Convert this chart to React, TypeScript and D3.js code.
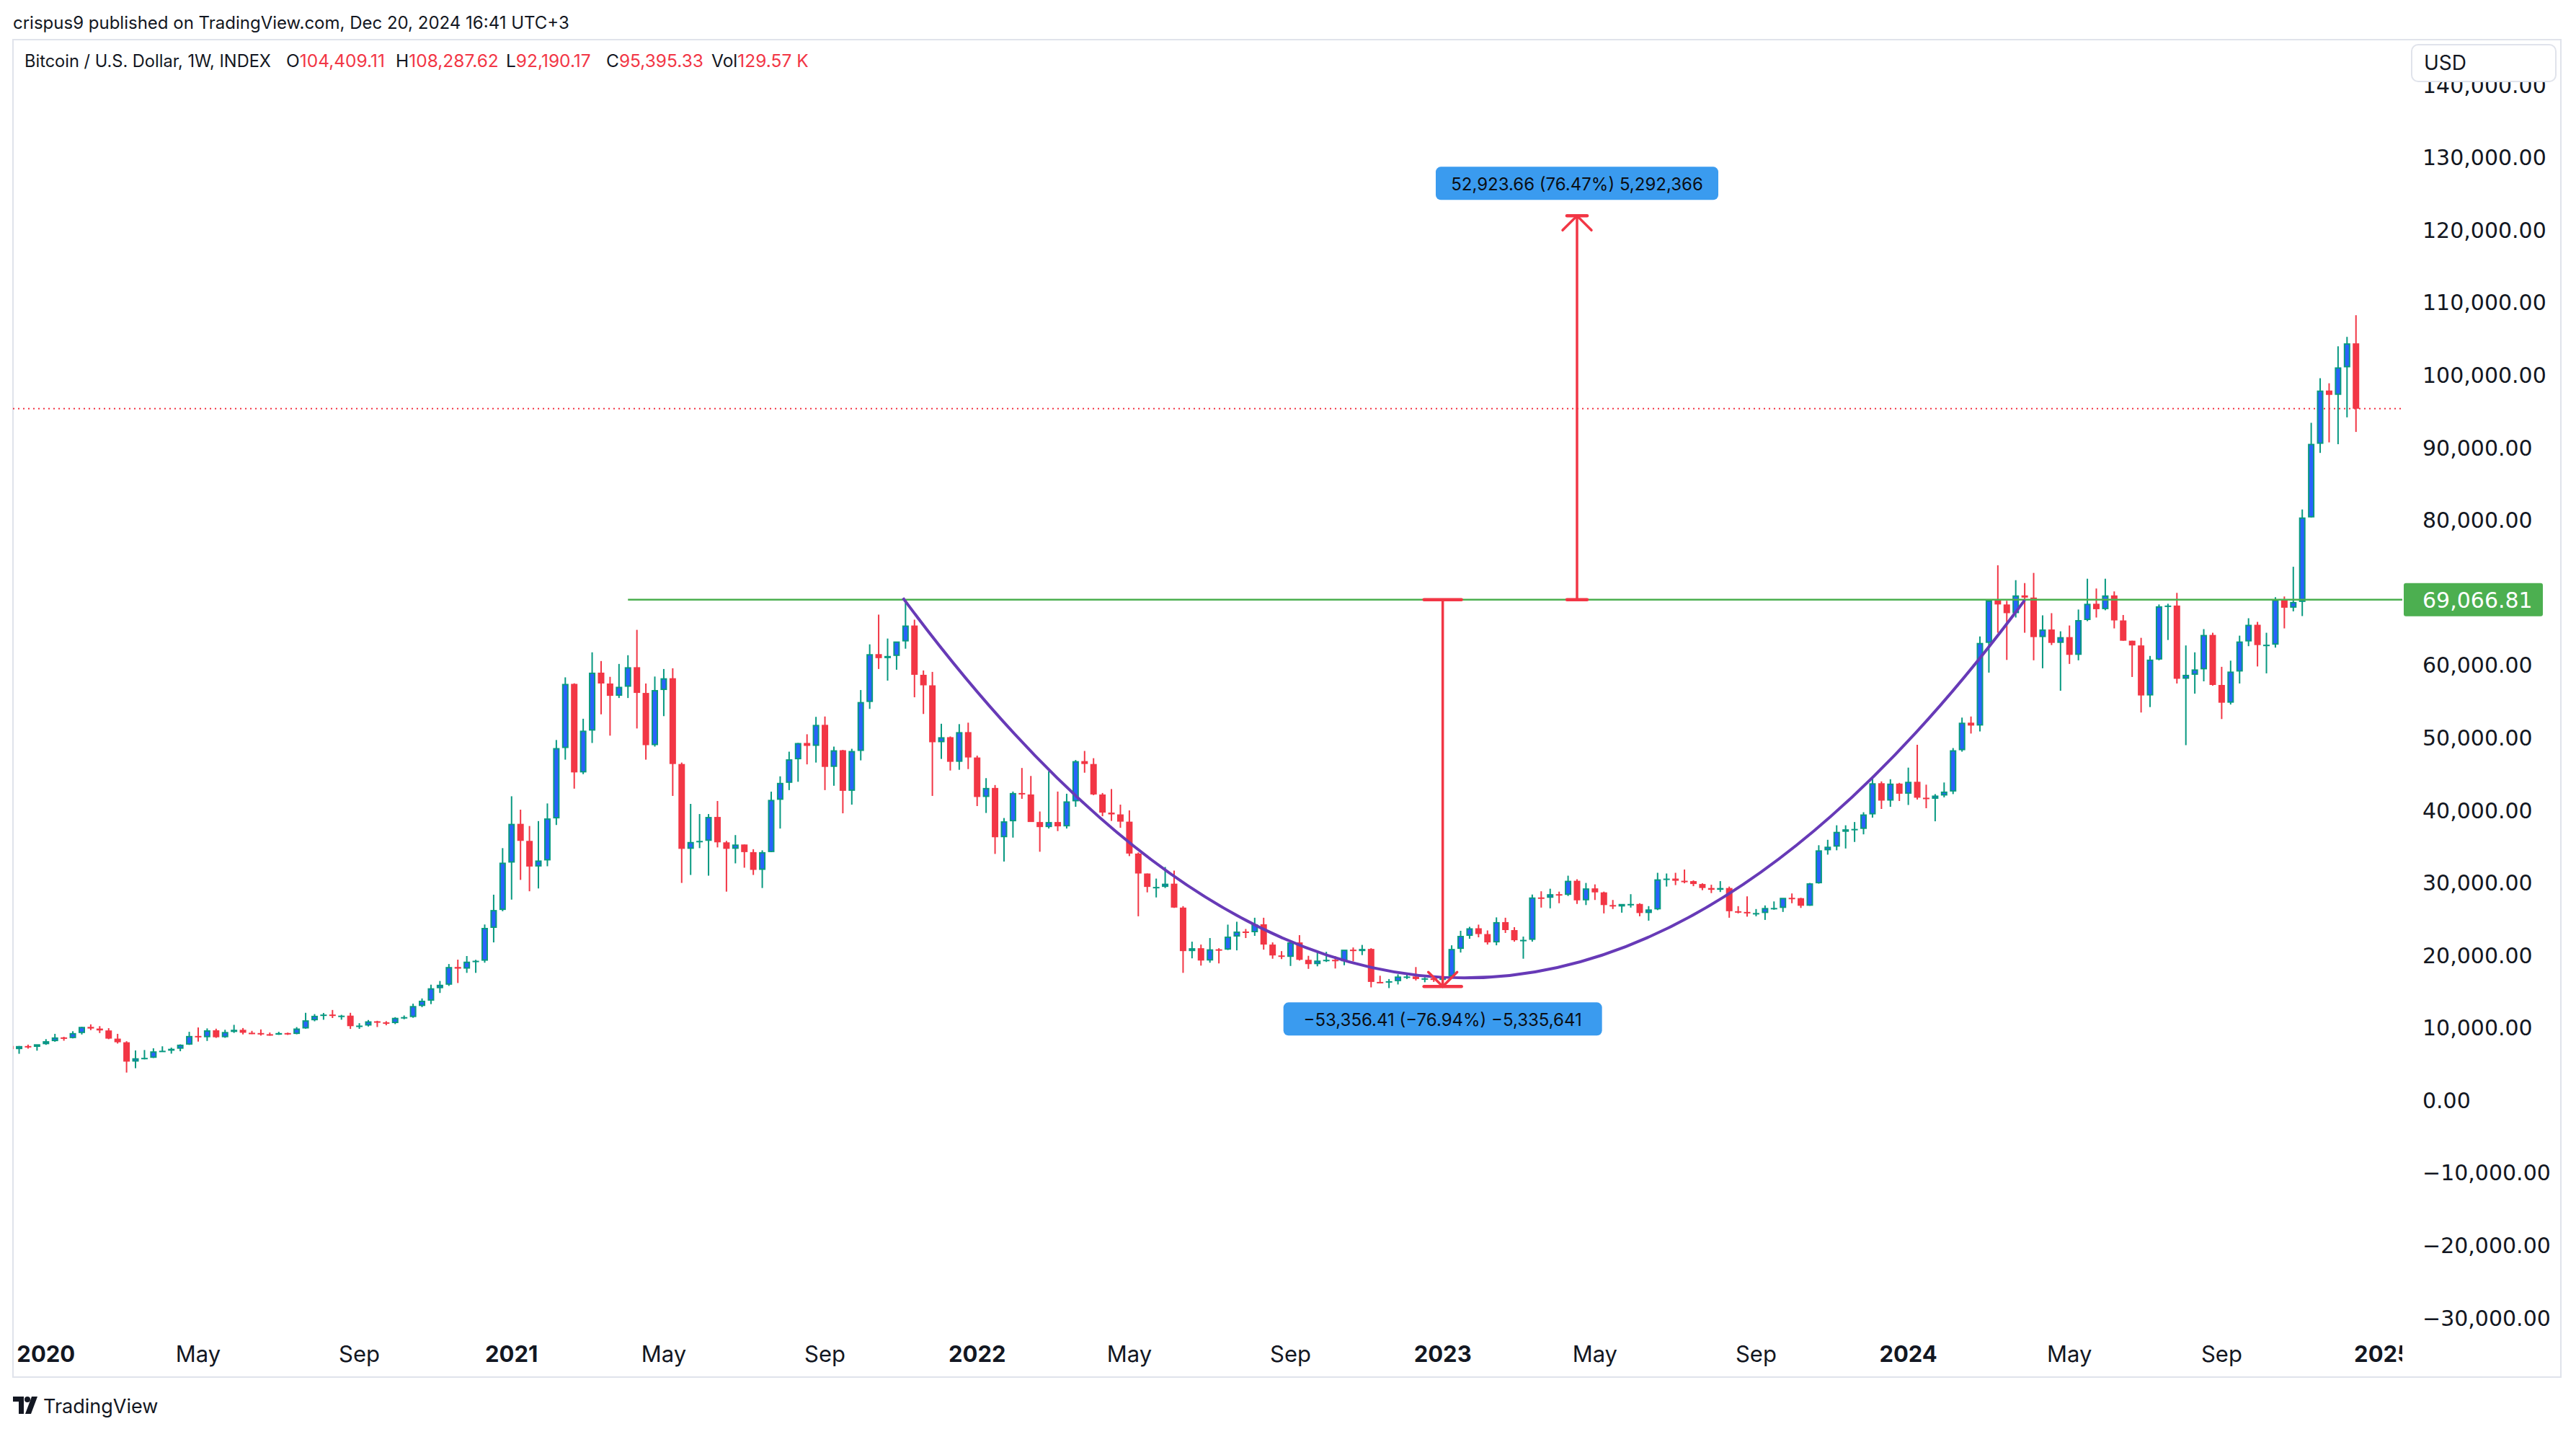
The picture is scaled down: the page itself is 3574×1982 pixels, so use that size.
import React, { useRef, useEffect } from 'react';
import * as d3 from 'd3';

// weekly BTC/USD candles, [open, high, low, close] in thousands of USD
const candles2019 = [
  [7.52, 7.68, 7.05, 7.08], [7.08, 7.52, 6.44, 7.51], [7.51, 7.70, 7.15, 7.39], [7.39, 7.54, 6.87, 7.76],
];
const candles2020 = [
  [7.76, 8.46, 7.67, 8.18], [8.18, 9.19, 8.10, 8.70], [8.70, 8.78, 8.24, 8.60], [8.60, 9.55, 8.56, 9.30],
  [9.30, 10.16, 9.10, 10.15], [10.15, 10.50, 9.70, 9.92], [9.92, 10.25, 9.30, 9.66], [9.66, 9.97, 8.45, 8.53],
  [8.53, 9.19, 7.85, 8.03], [8.03, 8.17, 3.85, 5.36], [5.36, 6.90, 4.45, 5.83], [5.83, 6.96, 5.67, 5.88],
  [5.88, 7.20, 5.86, 6.78], [6.78, 7.47, 6.75, 6.86], [6.86, 7.29, 6.46, 7.13], [7.13, 7.74, 6.79, 7.70],
  [7.70, 9.47, 7.66, 8.90], [8.90, 10.07, 8.12, 8.72], [8.72, 9.94, 8.21, 9.68], [9.68, 9.90, 8.63, 8.72],
  [8.72, 9.75, 8.64, 9.45], [9.45, 10.43, 9.32, 9.75], [9.75, 9.99, 9.11, 9.34], [9.34, 9.60, 9.16, 9.30],
  [9.30, 9.80, 8.95, 9.14], [9.14, 9.37, 8.94, 9.07], [9.07, 9.47, 9.05, 9.30], [9.30, 9.36, 9.04, 9.17],
  [9.17, 10.12, 9.13, 9.93], [9.93, 12.09, 9.90, 11.06], [11.06, 11.91, 10.92, 11.68], [11.68, 12.07, 11.13, 11.85],
  [11.85, 12.48, 11.37, 11.65], [11.65, 11.81, 11.14, 11.70], [11.70, 12.09, 9.87, 10.25], [10.25, 10.66, 9.88, 10.33],
  [10.33, 11.10, 10.20, 10.92], [10.92, 10.99, 10.13, 10.78], [10.78, 10.94, 10.37, 10.67], [10.67, 11.49, 10.53, 11.40],
  [11.40, 11.72, 11.20, 11.50], [11.50, 13.35, 11.40, 13.03], [13.03, 14.07, 12.87, 13.76], [13.76, 15.97, 13.29, 15.48],
  [15.48, 16.48, 14.83, 15.96], [15.96, 18.82, 15.80, 18.41], [18.41, 19.42, 16.20, 18.18], [18.18, 19.92, 17.60, 19.15],
  [19.15, 19.40, 17.60, 19.27], [19.27, 24.27, 19.00, 23.80], [23.80, 28.38, 21.80, 26.27], [26.27, 34.80, 26.10, 32.80],
];
const candles2021 = [
  [32.80, 41.95, 27.70, 38.15], [38.15, 40.10, 30.42, 35.80], [35.80, 37.85, 28.85, 32.26], [32.26, 38.53, 29.24, 33.10],
  [33.10, 40.96, 32.30, 38.90], [38.90, 49.71, 37.99, 48.60], [48.60, 58.35, 47.00, 57.45], [57.45, 57.53, 43.00, 45.24],
  [45.24, 52.64, 45.00, 51.00], [51.00, 61.80, 49.30, 59.00], [59.00, 60.60, 53.25, 57.50], [57.50, 58.42, 50.31, 55.80],
  [55.80, 60.20, 55.50, 57.05], [57.05, 61.40, 55.50, 59.75], [59.75, 64.90, 51.30, 56.20], [56.20, 57.50, 47.00, 49.00],
  [49.00, 58.46, 48.80, 56.60], [56.60, 59.50, 53.00, 58.23], [58.23, 59.60, 42.00, 46.40], [46.40, 46.60, 30.00, 34.70],
  [34.70, 40.90, 31.10, 35.65], [35.65, 39.50, 34.80, 35.80], [35.80, 39.50, 31.00, 39.10], [39.10, 41.30, 34.90, 35.60],
  [35.60, 35.80, 28.80, 34.70], [34.70, 36.60, 32.70, 35.30], [35.30, 35.30, 32.10, 34.25], [34.25, 34.65, 31.10, 31.80],
  [31.80, 34.50, 29.30, 34.25], [34.25, 42.60, 34.25, 41.46], [41.46, 44.70, 37.50, 43.80], [43.80, 48.10, 42.80, 47.05],
  [47.05, 49.30, 43.95, 49.30], [49.30, 50.50, 46.35, 48.90], [48.90, 52.90, 46.60, 51.80], [51.80, 52.95, 42.80, 46.00],
  [46.00, 48.80, 43.40, 48.30], [48.30, 48.35, 39.60, 42.70], [42.70, 48.50, 40.80, 48.20], [48.20, 56.60, 46.90, 54.95],
  [54.95, 62.90, 54.00, 61.55], [61.55, 67.00, 59.50, 61.00], [61.00, 63.70, 57.90, 61.30], [61.30, 63.00, 59.40, 63.30],
  [63.30, 69.00, 62.30, 65.50], [65.50, 66.30, 55.60, 58.70], [58.70, 59.30, 53.30, 57.25], [57.25, 59.10, 42.00, 49.40],
  [49.40, 51.95, 47.10, 50.10], [50.10, 50.20, 45.50, 46.70], [46.70, 51.90, 45.60, 50.80], [50.80, 52.10, 45.70, 47.30],
];
const candles2022 = [
  [47.30, 47.55, 40.60, 41.85], [41.85, 44.45, 39.65, 43.10], [43.10, 43.50, 34.00, 36.30], [36.30, 38.95, 32.95, 38.50],
  [38.50, 42.60, 36.25, 42.40], [42.40, 45.85, 41.60, 42.20], [42.20, 44.75, 39.45, 38.40], [38.40, 39.85, 34.30, 37.70],
  [37.70, 45.40, 37.50, 38.40], [38.40, 42.60, 37.15, 37.80], [37.80, 42.30, 37.50, 41.25], [41.25, 46.95, 40.50, 46.80],
  [46.80, 48.20, 45.20, 46.40], [46.40, 47.20, 42.10, 42.20], [42.20, 42.40, 39.20, 39.70], [39.70, 42.95, 38.55, 39.45],
  [39.45, 40.80, 37.60, 38.45], [38.45, 40.00, 33.70, 34.05], [34.05, 34.20, 25.40, 31.30], [31.30, 31.30, 28.70, 29.45],
  [29.45, 30.60, 28.00, 29.45], [29.45, 32.20, 29.30, 29.90], [29.90, 31.70, 26.55, 26.60], [26.60, 26.80, 17.60, 20.60],
  [20.60, 21.90, 19.60, 21.00], [21.00, 21.50, 18.60, 19.30], [19.30, 22.40, 19.00, 20.85], [20.85, 21.00, 18.90, 20.80],
  [20.80, 24.25, 20.75, 22.60], [22.60, 24.65, 20.70, 23.30], [23.30, 23.65, 22.40, 23.20], [23.20, 25.20, 22.70, 24.30],
  [24.30, 25.20, 20.80, 21.50], [21.50, 21.80, 19.55, 20.00], [20.00, 20.60, 19.50, 19.80], [19.80, 21.80, 18.55, 21.80],
  [21.80, 22.80, 19.30, 19.40], [19.40, 19.95, 18.15, 18.80], [18.80, 20.40, 18.50, 19.30], [19.30, 20.50, 19.10, 19.40],
  [19.40, 19.90, 18.20, 19.20], [19.20, 19.70, 18.65, 20.80], [20.80, 21.10, 19.20, 20.60], [20.60, 21.45, 20.05, 20.90],
  [20.90, 21.00, 15.60, 16.35], [16.35, 17.20, 16.20, 16.30], [16.30, 16.75, 15.50, 16.45], [16.45, 17.40, 16.00, 17.10],
  [17.10, 17.45, 16.75, 17.10], [17.10, 18.40, 16.55, 16.75], [16.75, 17.00, 16.30, 16.85], [16.85, 16.95, 16.35, 16.62],
];
const candles2023 = [
  [16.62, 17.40, 16.50, 17.12], [17.12, 21.40, 17.10, 20.90], [20.90, 23.40, 20.40, 22.70], [22.70, 23.95, 22.30, 23.75],
  [23.75, 24.25, 22.50, 22.95], [22.95, 23.45, 21.50, 21.80], [21.80, 25.25, 21.40, 24.60], [24.60, 25.20, 23.10, 23.50],
  [23.50, 23.90, 21.90, 22.10], [22.10, 22.60, 19.55, 22.15], [22.15, 28.40, 21.90, 28.00], [28.00, 28.85, 26.60, 27.95],
  [27.95, 29.20, 26.50, 28.45], [28.45, 28.80, 27.20, 28.35], [28.35, 31.00, 28.20, 30.30], [30.30, 30.50, 27.10, 27.60],
  [27.60, 30.00, 26.95, 29.25], [29.25, 29.80, 27.65, 28.70], [28.70, 28.80, 25.80, 26.95], [26.95, 27.65, 26.40, 26.75],
  [26.75, 27.00, 25.90, 27.10], [27.10, 28.45, 26.60, 27.10], [27.10, 27.20, 25.40, 25.85], [25.85, 26.80, 24.80, 26.35],
  [26.35, 31.40, 26.25, 30.50], [30.50, 31.30, 29.50, 30.60], [30.60, 31.40, 29.70, 30.30], [30.30, 31.85, 29.95, 30.25],
  [30.25, 30.35, 29.55, 29.85], [29.85, 29.95, 29.00, 29.30], [29.30, 29.75, 28.60, 29.05], [29.05, 30.25, 28.75, 29.30],
  [29.30, 29.50, 25.20, 26.10], [26.10, 26.80, 25.80, 26.00], [26.00, 28.15, 25.35, 25.85], [25.85, 26.40, 25.40, 25.85],
  [25.85, 26.90, 24.90, 26.55], [26.55, 27.45, 26.30, 26.55], [26.55, 27.20, 26.00, 27.95], [27.95, 28.55, 27.20, 27.90],
  [27.90, 27.95, 26.55, 26.85], [26.85, 30.00, 26.85, 29.95], [29.95, 35.20, 29.90, 34.50], [34.50, 35.95, 33.90, 35.00],
  [35.00, 37.95, 34.50, 37.05], [37.05, 37.95, 34.75, 37.40], [37.40, 38.40, 35.65, 37.45], [37.45, 39.75, 36.70, 39.45],
  [39.45, 44.50, 39.00, 43.75], [43.75, 44.00, 40.20, 41.35], [41.35, 44.30, 40.50, 43.70], [43.70, 43.80, 41.30, 42.30],
];
const candles2024 = [
  [42.30, 45.90, 40.75, 43.95], [43.95, 49.05, 41.50, 41.75], [41.75, 43.55, 40.30, 41.60], [41.60, 42.25, 38.50, 42.05],
  [42.05, 43.85, 41.80, 42.60], [42.60, 48.60, 42.25, 48.30], [48.30, 52.80, 48.10, 52.10], [52.10, 52.95, 50.60, 51.70],
  [51.70, 64.00, 50.90, 63.10], [63.10, 69.00, 59.00, 68.95], [68.95, 73.80, 64.50, 68.40], [68.40, 68.90, 60.75, 67.20],
  [67.20, 71.75, 66.60, 69.65], [69.65, 71.35, 64.50, 69.35], [69.35, 72.75, 60.70, 63.90], [63.90, 66.90, 59.60, 64.95],
  [64.95, 67.20, 62.80, 63.10], [63.10, 64.70, 56.50, 63.90], [63.90, 65.50, 60.20, 61.45], [61.45, 67.70, 60.70, 66.25],
  [66.25, 71.95, 66.10, 68.50], [68.50, 70.60, 66.60, 67.75], [67.75, 71.95, 67.60, 69.65], [69.65, 70.20, 65.10, 66.20],
  [66.20, 66.95, 63.40, 63.40], [63.40, 63.40, 58.40, 62.75], [62.75, 63.80, 53.50, 55.85], [55.85, 61.30, 54.25, 60.80],
  [60.80, 68.40, 60.70, 68.15], [68.15, 68.50, 63.50, 68.25], [68.25, 70.00, 57.50, 58.15], [58.15, 62.75, 49.00, 58.70],
  [58.70, 61.80, 56.10, 59.45], [59.45, 65.00, 57.80, 64.20], [64.20, 64.50, 57.20, 57.30], [57.30, 59.80, 52.60, 54.85],
  [54.85, 60.65, 54.60, 59.15], [59.15, 64.10, 57.50, 63.30], [63.30, 66.50, 62.65, 65.60], [65.60, 66.00, 59.85, 62.80],
  [62.80, 64.50, 58.90, 62.85], [62.85, 69.40, 62.45, 69.05], [69.05, 69.50, 65.10, 67.95], [67.95, 73.60, 67.45, 68.75],
  [68.75, 81.50, 66.80, 80.40], [80.40, 93.45, 80.40, 90.55], [90.55, 99.60, 89.30, 97.90], [97.90, 98.90, 90.75, 97.30],
  [97.30, 104.00, 90.50, 101.10], [101.10, 105.30, 94.20, 104.41], [104.409, 108.288, 92.19, 95.395],
];

const firstWeek = new Date(Date.UTC(2019, 11, 9));

// time axis labels
const tickDates = [
  '2020-01-06', '2020-05-04', '2020-09-07', '2021-01-04', '2021-05-03', '2021-09-06',
  '2022-01-03', '2022-05-02', '2022-09-05', '2023-01-02', '2023-05-01', '2023-09-04',
  '2024-01-01', '2024-05-06', '2024-09-02', '2025-01-06',
];
const tickLabels = ['2020', 'May', 'Sep', '2021', 'May', 'Sep', '2022', 'May', 'Sep', '2023', 'May', 'Sep', '2024', 'May', 'Sep', '2025'];
const priceTicks = [-30000, -20000, -10000, 0, 10000, 20000, 30000, 40000, 50000, 60000, 70000, 80000, 90000, 100000, 110000, 120000, 130000, 140000];

// legend values of the last bar
const legendKeys = ['O', 'H', 'L', 'C', 'Vol'];
const legendValues = ['104,409.11', '108,287.62', '92,190.17', '95,395.33', '129.57 K'];

// drawings
const breakoutLevel = 69066.81;
const breakoutStart = '2021-04-05';
const lastClose = 95395.33;
const cupStart = { date: '2021-11-06', value: 69300 };
const cupEnd = { date: '2024-04-01', value: 69000 };
const cupBottom = 16900;
const dropMeasure = { date: '2023-01-02', from: 69066.81, to: 15710.40, label: '\u221253,356.41 (\u221276.94%) \u22125,335,641' };
const riseMeasure = { date: '2023-04-17', from: 69066.81, to: 121990.47, label: '52,923.66 (76.47%) 5,292,366' };

const UP_BODY = '#2962ff';
const UP_EDGE = '#089981';
const DOWN = '#f23645';
const TEXT = '#131722';
const UI_FONT = 'Inter, "Liberation Sans", Arial, sans-serif';

const App = () => {
  const svgRef = useRef<SVGSVGElement>(null);

  useEffect(() => {
    const W = 3574, H = 1982;
    const frame = { left: 18, top: 55, right: 3553, bottom: 1910 };
    const plotRight = 3333, plotBottom = 1851;

    const svg = d3.select(svgRef.current).attr('width', W).attr('height', H);
    svg.selectAll('*').remove();

    const day = (s: string) => new Date(s + 'T00:00:00Z');
    const rows = [...candles2019, ...candles2020, ...candles2021, ...candles2022, ...candles2023, ...candles2024]
      .map((r, i) => ({ date: d3.utcDay.offset(firstWeek, 7 * i), o: r[0] * 1000, h: r[1] * 1000, l: r[2] * 1000, c: r[3] * 1000 }));

    const x = d3.scaleUtc().domain([day('2020-01-06'), day('2025-01-06')]).range([63.8, 3306]);
    const y = d3.scaleLinear().domain([-30000, 130000]).range([1828.1, 218.8]);

    svg.append('rect').attr('width', W).attr('height', H).attr('fill', '#fff');

    const defs = svg.append('defs');
    defs.append('clipPath').attr('id', 'plot-clip').append('rect')
      .attr('x', frame.left).attr('y', frame.top).attr('width', plotRight - frame.left).attr('height', plotBottom - frame.top);
    defs.append('clipPath').attr('id', 'time-clip').append('rect')
      .attr('x', frame.left).attr('y', plotBottom).attr('width', plotRight - frame.left).attr('height', frame.bottom - plotBottom);

    // header
    svg.append('text').attr('x', 18).attr('y', 31).attr('dominant-baseline', 'central')
      .attr('font-family', UI_FONT).attr('font-size', 24).attr('fill', TEXT)
      .text('crispus9 published on TradingView.com, Dec 20, 2024 16:41 UTC+3');

    svg.append('rect').attr('x', frame.left).attr('y', frame.top)
      .attr('width', frame.right - frame.left).attr('height', frame.bottom - frame.top)
      .attr('fill', 'none').attr('stroke', '#e0e3eb').attr('stroke-width', 2);

    const plot = svg.append('g').attr('clip-path', 'url(#plot-clip)');

    // last close dotted line
    plot.append('line')
      .attr('x1', frame.left).attr('x2', plotRight).attr('y1', y(lastClose)).attr('y2', y(lastClose))
      .attr('stroke', DOWN).attr('stroke-width', 2).attr('stroke-dasharray', '2 5');

    // candles
    const bodyW = 9;
    const g = plot.append('g');
    rows.forEach(d => {
      const cx = x(d.date);
      const up = d.c >= d.o;
      g.append('line').attr('x1', cx).attr('x2', cx).attr('y1', y(d.h)).attr('y2', y(d.l))
        .attr('stroke', up ? UP_EDGE : DOWN).attr('stroke-width', 2);
      const top = y(Math.max(d.o, d.c));
      const hgt = Math.max(2, Math.abs(y(d.o) - y(d.c)));
      if (up) {
        g.append('rect').attr('x', cx - bodyW / 2).attr('y', top).attr('width', bodyW).attr('height', hgt).attr('fill', UP_EDGE);
        if (hgt > 4) {
          g.append('rect').attr('x', cx - bodyW / 2 + 2).attr('y', top + 2).attr('width', bodyW - 4).attr('height', hgt - 4).attr('fill', UP_BODY);
        }
      } else {
        g.append('rect').attr('x', cx - bodyW / 2).attr('y', top).attr('width', bodyW).attr('height', hgt).attr('fill', DOWN);
      }
    });

    // breakout level
    plot.append('line')
      .attr('x1', x(day(breakoutStart))).attr('x2', plotRight).attr('y1', y(breakoutLevel)).attr('y2', y(breakoutLevel))
      .attr('stroke', '#4caf50').attr('stroke-width', 2.5);

    // cup curve (quadratic bezier through the bottom)
    const p0 = [x(day(cupStart.date)), y(cupStart.value)];
    const p2 = [x(day(cupEnd.date)), y(cupEnd.value)];
    const ctrlVal = 2 * cupBottom - (cupStart.value + cupEnd.value) / 2;
    const p1 = [(p0[0] + p2[0]) / 2, y(ctrlVal)];
    const cup = d3.path();
    cup.moveTo(p0[0], p0[1]);
    cup.quadraticCurveTo(p1[0], p1[1], p2[0], p2[1]);
    plot.append('path').attr('d', cup.toString()).attr('fill', 'none')
      .attr('stroke', '#673ab7').attr('stroke-width', 4);

    // measure tools
    const measure = (m: typeof dropMeasure, capW: number, boxW: number) => {
      const mx = x(day(m.date));
      const y0 = y(m.from), y1 = y(m.to);
      const dir = y1 > y0 ? 1 : -1;
      const mg = plot.append('g').attr('stroke', DOWN).attr('fill', 'none').attr('stroke-linecap', 'round');
      mg.append('line').attr('x1', mx).attr('x2', mx).attr('y1', y0).attr('y2', y1).attr('stroke-width', 3.5);
      mg.append('line').attr('x1', mx - capW).attr('x2', mx + capW).attr('y1', y0).attr('y2', y0).attr('stroke-width', 4.5);
      mg.append('line').attr('x1', mx - capW).attr('x2', mx + capW).attr('y1', y1).attr('y2', y1).attr('stroke-width', 4.5);
      mg.append('path').attr('stroke-width', 3.5)
        .attr('d', `M${mx - 20},${y1 - dir * 20}L${mx},${y1}L${mx + 20},${y1 - dir * 20}`);
      const boxH = 46;
      const by = dir > 0 ? y1 + 22 : y1 - 22 - boxH;
      plot.append('rect').attr('x', mx - boxW / 2).attr('y', by).attr('width', boxW).attr('height', boxH)
        .attr('rx', 7).attr('fill', '#3a9bef');
      plot.append('text').attr('x', mx).attr('y', by + boxH / 2 + 1).attr('text-anchor', 'middle')
        .attr('dominant-baseline', 'central').attr('font-family', UI_FONT).attr('font-size', 24)
        .attr('fill', '#0b0e14').text(m.label);
    };
    measure(dropMeasure, 26, 442);
    measure(riseMeasure, 14, 392);

    // legend
    const legendY = 84;
    const legendX = [397, 549, 702, 841, 987];
    const legend = svg.append('g').attr('font-family', UI_FONT).attr('font-size', 24.5).attr('dominant-baseline', 'central');
    legend.append('text').attr('x', 34).attr('y', legendY).attr('font-size', 23.6).attr('fill', TEXT)
      .text('Bitcoin / U.S. Dollar, 1W, INDEX');
    legendKeys.forEach((k, i) => {
      const t = legend.append('text').attr('x', legendX[i]).attr('y', legendY);
      t.append('tspan').attr('fill', TEXT).text(k);
      t.append('tspan').attr('fill', DOWN).text(legendValues[i]);
    });

    // price axis
    const priceFmt = d3.format(',.2f');
    svg.append('g').selectAll('text').data(priceTicks).enter().append('text')
      .attr('x', 3361).attr('y', d => y(d)).attr('dominant-baseline', 'central')
      .attr('font-family', '"DejaVu Sans", sans-serif').attr('font-size', 30).attr('fill', TEXT)
      .text(d => priceFmt(d));

    svg.append('rect').attr('x', 3335).attr('y', y(breakoutLevel) - 23).attr('width', 193).attr('height', 46)
      .attr('rx', 3).attr('fill', '#4caf50');
    svg.append('text').attr('x', 3361).attr('y', y(breakoutLevel) + 1).attr('dominant-baseline', 'central')
      .attr('font-family', '"DejaVu Sans", sans-serif').attr('font-size', 30).attr('fill', '#fff')
      .text(priceFmt(breakoutLevel));

    svg.append('rect').attr('x', 3346).attr('y', 62).attr('width', 200).attr('height', 51).attr('rx', 9)
      .attr('fill', '#fff').attr('stroke', '#e0e3eb').attr('stroke-width', 2);
    svg.append('text').attr('x', 3363).attr('y', 87).attr('dominant-baseline', 'central')
      .attr('font-family', UI_FONT).attr('font-size', 28).attr('fill', TEXT).text('USD');

    // time axis
    svg.append('g').attr('clip-path', 'url(#time-clip)').selectAll('text').data(tickDates).enter().append('text')
      .attr('x', d => x(day(d))).attr('y', 1877).attr('text-anchor', 'middle').attr('dominant-baseline', 'central')
      .attr('font-family', UI_FONT).attr('font-size', 31).attr('fill', TEXT)
      .attr('font-weight', (_, i) => (/^\d+$/.test(tickLabels[i]) ? 700 : 400))
      .text((_, i) => tickLabels[i]);

    // footer logo
    const logo = svg.append('g').attr('fill', TEXT);
    logo.append('path').attr('d', 'M18,1937h15v24h-7v-17h-8z');
    logo.append('circle').attr('cx', 38).attr('cy', 1941).attr('r', 4);
    logo.append('path').attr('d', 'M44,1937h8l-9,24h-8z');
    svg.append('text').attr('x', 60).attr('y', 1950).attr('dominant-baseline', 'central')
      .attr('font-family', UI_FONT).attr('font-size', 27).attr('fill', TEXT).text('TradingView');
  }, []);

  return (
    <div style={{ position: 'absolute', left: 0, top: 0 }}>
      <svg ref={svgRef} style={{ display: 'block' }}></svg>
    </div>
  );
};

export default App;
